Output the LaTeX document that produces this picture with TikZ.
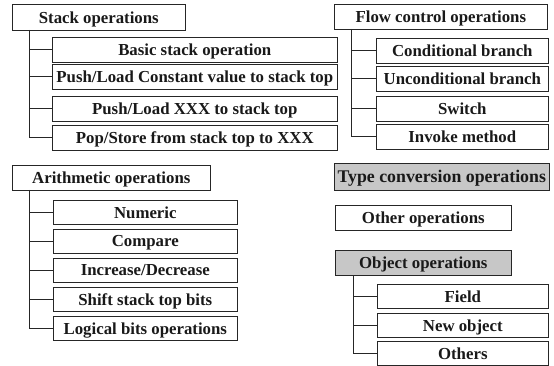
\documentclass[tikz,border=0pt]{standalone}
\usepackage{fontspec}
\setmainfont{Liberation Serif}
\begin{document}
\begin{tikzpicture}[x=1pt,y=-1pt,
  box/.style={draw=black!85,line width=0.6pt,inner sep=0pt,anchor=north west,text depth=0pt,
    font=\fontsize{16.8}{18}\selectfont\bfseries,text=black!90},
  shade/.style={fill=black!22},
  conn/.style={draw=black!85,line width=0.6pt}]
\useasboundingbox (0,0) rectangle (554,366);
% Stack operations
\node[box,minimum width=173pt,minimum height=26pt] (stack) at (12,4) {Stack operations};
\node[box,minimum width=285pt,minimum height=25pt] (s1) at (52,37) {Basic stack operation};
\node[box,minimum width=285pt,minimum height=25pt] (s2) at (52,64) {Push/Load Constant value to stack top};
\node[box,minimum width=285pt,minimum height=25pt] (s3) at (52,96) {Push/Load XXX to stack top};
\node[box,minimum width=285pt,minimum height=25pt] (s4) at (52,125) {Pop/Store from stack top to XXX};
\coordinate (st) at (29,30);
\draw[conn] (st) |- (s4.west);
\foreach \c in {s1,s2,s3} \draw[conn] (st |- \c.west) -- (\c.west);
% Arithmetic operations
\node[box,minimum width=198pt,minimum height=25pt] (arith) at (12,165) {Arithmetic operations};
\node[box,minimum width=184pt,minimum height=24pt] (a1) at (53,200) {Numeric};
\node[box,minimum width=184pt,minimum height=24pt] (a2) at (53,229) {Compare};
\node[box,minimum width=184pt,minimum height=24pt] (a3) at (53,258) {Increase/Decrease};
\node[box,minimum width=184pt,minimum height=24pt] (a4) at (53,287) {Shift stack top bits};
\node[box,minimum width=184pt,minimum height=24pt] (a5) at (53,316) {Logical bits operations};
\coordinate (at) at (29,190);
\draw[conn] (at) |- (a5.west);
\foreach \c in {a1,a2,a3,a4} \draw[conn] (at |- \c.west) -- (\c.west);
% Flow control operations
\node[box,minimum width=213pt,minimum height=25pt] (flow) at (334,4) {Flow control operations};
\node[box,minimum width=172pt,minimum height=25pt] (f1) at (376,38) {Conditional branch};
\node[box,minimum width=172pt,minimum height=25pt] (f2) at (376,66) {Unconditional branch};
\node[box,minimum width=172pt,minimum height=25pt] (f3) at (376,96) {Switch};
\node[box,minimum width=172pt,minimum height=25pt] (f4) at (376,124) {Invoke method};
\coordinate (ft) at (351,29);
\draw[conn] (ft) |- (f4.west);
\foreach \c in {f1,f2,f3} \draw[conn] (ft |- \c.west) -- (\c.west);
% Single boxes
\node[box,shade,minimum width=215pt,minimum height=27pt,font=\fontsize{17.8}{19}\selectfont\bfseries] (type) at (334,163) {Type conversion operations};
\node[box,minimum width=176pt,minimum height=25pt] (other) at (335,205) {Other operations};
% Object operations
\node[box,shade,minimum width=176pt,minimum height=25pt] (obj) at (335,250) {Object operations};
\node[box,minimum width=171pt,minimum height=24pt] (o1) at (377,284) {Field};
\node[box,minimum width=171pt,minimum height=24pt] (o2) at (377,313) {New object};
\node[box,minimum width=171pt,minimum height=24pt] (o3) at (377,341) {Others};
\coordinate (ot) at (353,275);
\draw[conn] (ot) |- (o3.west);
\foreach \c in {o1,o2} \draw[conn] (ot |- \c.west) -- (\c.west);
\end{tikzpicture}
\end{document}
